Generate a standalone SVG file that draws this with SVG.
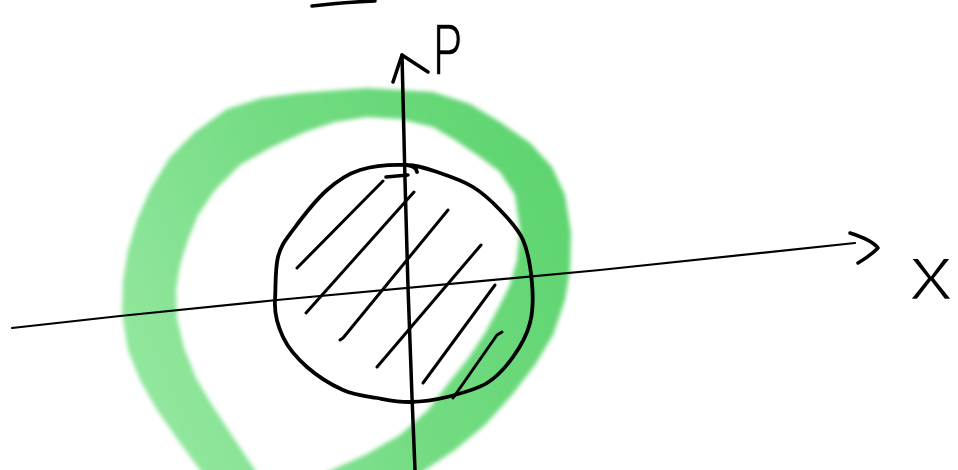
<svg xmlns="http://www.w3.org/2000/svg" width="958" height="470" viewBox="0 0 958 470">
<defs>
<style>
.ink{fill:none;stroke:#000;stroke-linecap:round;stroke-linejoin:round}
.lbl{font-family:"Liberation Sans","DejaVu Sans",sans-serif;fill:#000;stroke:#fff;paint-order:fill}
</style>
<linearGradient id="g" gradientUnits="userSpaceOnUse" x1="130" y1="330" x2="560" y2="130">
<stop offset="0" stop-color="#90e69c"/>
<stop offset="0.45" stop-color="#74dc83"/>
<stop offset="1" stop-color="#5cd46d"/>
</linearGradient>
<filter id="soft" x="-10%" y="-10%" width="120%" height="120%"><feGaussianBlur stdDeviation="2"/></filter>
</defs>
<rect width="958" height="470" fill="#fff"/>
<g id="ring" filter="url(#soft)">
<path fill="url(#g)" fill-rule="evenodd" d="M300,93 L367,88 L433,92 L470,104 L500,122 L530,143 L552,167 L565,195 L571,233 L570,270 L565,300 L553,335 L535,365 L512,395 L485,425 L455,450 L425,470 L395,490 L330,520 L230,510 L200,470 L178,440 L157,410 L140,380 L128,350 L122,313 L123,280 L128,250 L137,220 L150,190 L170,157 L195,132 L227,109 L262,98 Z M480,157 L500,172 L515,195 L520,230 L517,260 L510,285 L500,305 L485,333 L467,360 L447,385 L428,410 L400,435 L365,455 L327,472 L300,492 L270,500 L255,470 L233,437 L212,405 L196,378 L184,348 L177,318 L176,290 L180,265 L188,240 L198,215 L215,190 L240,165 L270,148 L305,132 L335,122 L367,117 L400,119 L433,127 L455,140 Z"/>
</g>
<g id="connectors">
<path class="ink" stroke-width="2.2" d="M12,328 L120,316 L277,300 L600,270 L855,243"/>
<path class="ink" stroke-width="3.5" d="M850,233 Q872,240 878,248 Q870,256 858,263"/>
<path class="ink" stroke-width="3.5" d="M415,470 L412,397 L408,287 L405,180 L402,55"/>
<path class="ink" stroke-width="3.5" d="M393,82 L402,55 L428,72"/>
<path class="ink" stroke-width="3.5" d="M312,6 Q345,2 375,1"/>
</g>
<g id="disk">
<path class="ink" stroke-width="3.8" d="M407,165 C420.3,165.5 429,169.3 440,173 C451,176.7 463,180.8 473,187 C483,193.2 491.7,201.2 500,210 C508.3,218.8 517.7,227.8 523,240 C528.3,252.2 530.8,269.2 532,283 C533.2,296.8 533.2,310.7 530,323 C526.8,335.3 520.2,347 513,357 C505.8,367 498,376.3 487,383 C476,389.7 459.8,393.8 447,397 C434.2,400.2 421.7,401.8 410,402 C398.3,402.2 388.2,400 377,398 C365.8,396 354.7,395.2 343,390 C331.3,384.8 317,375.8 307,367 C297,358.2 288.3,348.2 283,337 C277.7,325.8 274.2,313.3 275,300 C275.8,286.7 275,268.7 278,257 C281,245.3 284.8,241.2 293,230 C301.2,218.8 315.8,200 327,190 C338.2,180 346.7,174.2 360,170 C373.3,165.8 393.7,164.5 407,165 Q416,166 417,172"/>
<path class="ink" stroke-width="3.5" d="M386,177 L408,175"/>
<g class="ink" stroke-width="3">
<path d="M383,181 L297,268"/>
<path d="M414,192 L306,313"/>
<path d="M448,210 L343,338 L340,340"/>
<path d="M481,245 L377,367"/>
<path d="M495,285 L423,383"/>
<path d="M502,332 L497,335 L453,398"/>
</g>
</g>
<g id="labels">
<text class="lbl" x="0" y="0" font-size="74" stroke-width="1.5" transform="translate(433,75) scale(0.6,1)">P</text>
<text class="lbl" x="0" y="0" font-size="80" stroke-width="2.5" transform="translate(908,300) scale(1.15,1)">x</text>
</g>
</svg>
